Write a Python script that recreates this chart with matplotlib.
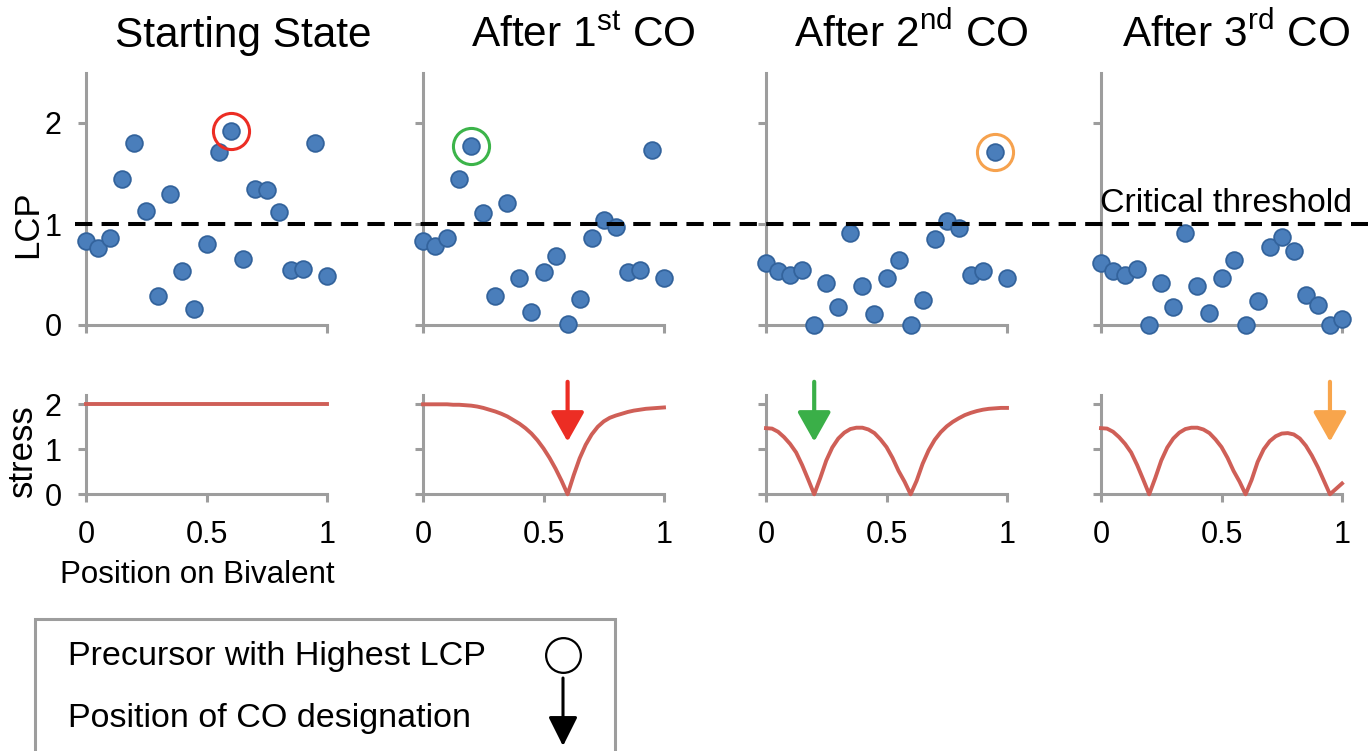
import numpy as np
import matplotlib
matplotlib.use("Agg")
import matplotlib.pyplot as plt
from matplotlib.lines import Line2D
from matplotlib.patches import Rectangle, FancyArrowPatch
from matplotlib.transforms import blended_transform_factory

plt.rcParams['font.family'] = ['Liberation Sans', 'DejaVu Sans']
plt.rcParams['mathtext.fontset'] = 'custom'
plt.rcParams['mathtext.rm'] = 'Liberation Sans'

# ---- data ----
titles = ["Starting State", r"After $1^{\mathrm{st}}$ CO",
          r"After $2^{\mathrm{nd}}$ CO", r"After $3^{\mathrm{rd}}$ CO"]

positions = np.linspace(0, 1, 21)

lcp_start = [0.83, 0.76, 0.86, 1.45, 1.80, 1.13, 0.29, 1.30, 0.53, 0.16, 0.80,
             1.71, 1.92, 0.65, 1.35, 1.34, 1.12, 0.54, 0.55, 1.80, 0.49]
lcp_co1 = [0.83, 0.78, 0.86, 1.45, 1.77, 1.11, 0.29, 1.21, 0.47, 0.13, 0.52,
           0.68, 0.01, 0.26, 0.86, 1.04, 0.97, 0.52, 0.54, 1.73, 0.47]
lcp_co2 = [0.61, 0.53, 0.50, 0.54, 0.00, 0.42, 0.18, 0.91, 0.39, 0.11, 0.47,
           0.64, 0.00, 0.25, 0.85, 1.03, 0.96, 0.50, 0.53, 1.71, 0.47]
lcp_co3 = [0.61, 0.53, 0.50, 0.55, 0.00, 0.42, 0.18, 0.91, 0.39, 0.12, 0.47,
           0.64, 0.00, 0.24, 0.77, 0.87, 0.73, 0.30, 0.20, 0.00, 0.06]

stress_x = np.linspace(0, 1, 41)
stress_start = [2.00] * 41
stress_co1 = [2.00, 2.00, 2.00, 2.00, 2.00, 1.99, 1.99, 1.98, 1.97, 1.95, 1.92,
              1.88, 1.84, 1.79, 1.73, 1.65, 1.57, 1.47, 1.35, 1.20, 1.02,
              0.81, 0.57, 0.30, 0.00, 0.42, 0.80, 1.10, 1.33, 1.50, 1.62,
              1.70, 1.75, 1.79, 1.83, 1.86, 1.88, 1.90, 1.91, 1.92, 1.93]
stress_co2 = [1.47, 1.46, 1.39, 1.27, 1.12, 0.93, 0.65, 0.33, 0.00, 0.36, 0.75,
              1.04, 1.24, 1.37, 1.45, 1.48, 1.48, 1.44, 1.36, 1.22, 1.05,
              0.81, 0.52, 0.28, 0.00, 0.30, 0.68, 0.98, 1.21, 1.38, 1.51,
              1.61, 1.69, 1.76, 1.81, 1.85, 1.88, 1.90, 1.91, 1.92, 1.92]
stress_co3 = [1.47, 1.46, 1.39, 1.27, 1.12, 0.93, 0.65, 0.33, 0.00, 0.36, 0.75,
              1.04, 1.24, 1.37, 1.45, 1.48, 1.48, 1.44, 1.36, 1.22, 1.05,
              0.81, 0.52, 0.28, 0.00, 0.32, 0.72, 1.00, 1.18, 1.29, 1.35,
              1.36, 1.33, 1.24, 1.08, 0.86, 0.60, 0.30, 0.00, 0.12, 0.24]

lcp_series = [lcp_start, lcp_co1, lcp_co2, lcp_co3]
stress_series = [stress_start, stress_co1, stress_co2, stress_co3]

threshold = 1.0
# highest precursor per panel (index into positions), None = no circle
highlight_idx = [12, 4, 19, None]
highlight_col = ['#ec2d24', '#3cb44a', '#f6a24e', None]
# CO designated in each panel (arrow on the stress row)
co_pos = [None, 0.60, 0.20, 0.95]
co_col = [None, '#ec2d24', '#3aaf48', '#f8a54c']

# ---- styling ----
W, H = 1368, 751
gray = '#9d9d9d'
dot_fc = '#4a7ebb'
dot_ec = '#33639c'
line_col = '#cf5f57'

fig = plt.figure(figsize=(W / 100, H / 100), dpi=100)

lefts = [86, 423, 766, 1101]
pw = 241
top_ax = []
bot_ax = []
for i in range(4):
    axt = fig.add_axes([lefts[i] / W, (H - 325) / H, pw / W, 252.5 / H])
    axb = fig.add_axes([lefts[i] / W, (H - 494.3) / H, pw / W, 99 / H])
    top_ax.append(axt)
    bot_ax.append(axb)

for i in range(4):
    axt = top_ax[i]
    axb = bot_ax[i]
    for ax in (axt, axb):
        ax.set_xlim(0, 1)
        for s in ['top', 'right']:
            ax.spines[s].set_visible(False)
        for s in ['left', 'bottom']:
            ax.spines[s].set_color(gray)
            ax.spines[s].set_linewidth(2.2)
        ax.tick_params(direction='out', length=5.5, width=2.2, color=gray,
                       labelsize=22, pad=12)
        ax.patch.set_alpha(0)

    # LCP scatter
    axt.set_ylim(0, 2.5)
    axt.set_yticks([0, 1, 2])
    axt.set_xticks([0, 1])
    axt.set_xticklabels([])
    axt.scatter(positions, lcp_series[i], s=145, c=dot_fc, edgecolors=dot_ec,
                linewidths=1.3, zorder=5, clip_on=False)
    if highlight_idx[i] is not None:
        k = highlight_idx[i]
        axt.plot(positions[k], lcp_series[i][k], 'o', ms=26, mfc='none',
                 mec=highlight_col[i], mew=2.2, zorder=6, clip_on=False)
    if i > 0:
        axt.set_yticklabels([])

    # stress curve
    axb.set_ylim(0, 2.2)
    axb.set_yticks([0, 1, 2])
    axb.set_xticks([0, 0.5, 1])
    axb.set_xticklabels(['0', '0.5', '1'])
    axb.tick_params(axis='x', pad=13)
    axb.plot(stress_x, stress_series[i], color=line_col, lw=2.8,
             clip_on=False, zorder=4, solid_joinstyle='round')
    if i > 0:
        axb.set_yticklabels([])
    if co_pos[i] is not None:
        axb.annotate('', xy=(co_pos[i], 1.17), xytext=(co_pos[i], 2.5),
                     annotation_clip=False,
                     arrowprops=dict(arrowstyle='-|>,head_length=0.55,head_width=0.31',
                                     mutation_scale=33, color=co_col[i], lw=3,
                                     shrinkA=0, shrinkB=0))

# titles
title_x = [243, 583, 911, 1236]
for i in range(4):
    fig.text(title_x[i] / W, 1 - 47 / H, titles[i], fontsize=30.5,
             ha='center', va='baseline')

# threshold line across all top panels
tr = blended_transform_factory(fig.transFigure, top_ax[0].transData)
fig.add_artist(Line2D([75 / W, 1.0], [threshold, threshold], transform=tr,
                      color='black', lw=2.9, dashes=(4.3, 2.3)))
top_ax[3].text(-0.005, 1.12, 'Critical threshold', fontsize=24.4,
               ha='left', va='baseline')

# axis labels
fig.text(28 / W, 1 - 224 / H, 'LCP', fontsize=25, rotation=90,
         ha='center', va='center')
fig.text(22 / W, 1 - 451 / H, 'stress', fontsize=25, rotation=90,
         ha='center', va='center')
fig.text(197 / W, 1 - 575 / H, 'Position on Bivalent', fontsize=22.5,
         ha='center', va='center')

# key box at the bottom
fig.add_artist(Rectangle((35 / W, -12 / H), 580 / W, 144 / H,
                         transform=fig.transFigure, fill=False,
                         edgecolor=gray, lw=2.2, clip_on=False))
fig.text(68 / W, 1 - 656 / H, 'Precursor with Highest LCP', fontsize=24.5,
         ha='left', va='center')
fig.text(68 / W, 1 - 719 / H, 'Position of CO designation', fontsize=24.5,
         ha='left', va='center')
fig.add_artist(Line2D([563 / W], [1 - 655 / H], transform=fig.transFigure,
                      marker='o', ms=25, mfc='none', mec='black', mew=1.6))
fig.add_artist(FancyArrowPatch(
    (563 / W, 1 - 678 / H), (563 / W, 1 - 746 / H), transform=fig.transFigure,
    arrowstyle='-|>,head_length=0.6,head_width=0.3', mutation_scale=30,
    color='black', lw=2.2, shrinkA=0, shrinkB=0))

fig.savefig('out.png', dpi=100)
